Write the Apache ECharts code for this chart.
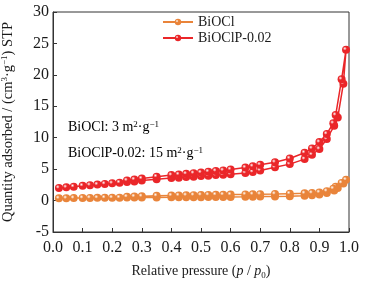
<!DOCTYPE html>
<html>
<head>
<meta charset="utf-8">
<script src="https://cdn.jsdelivr.net/npm/echarts@6/dist/echarts.min.js"></script>
<style>
  html, body { margin: 0; padding: 0; background: #fff; }
  #chart { width: 366px; height: 282px; }
</style>
</head>
<body>
<div id="chart"></div>
<script>
// 吸附支 / 脱附支 相对压力
var pAds = [0.02, 0.045, 0.07, 0.1, 0.125, 0.15, 0.175, 0.2, 0.225, 0.25, 0.275, 0.3, 0.35, 0.4, 0.425, 0.45, 0.475, 0.5, 0.525, 0.55, 0.575, 0.6, 0.65, 0.675, 0.7, 0.75, 0.8, 0.85, 0.875, 0.9, 0.925, 0.95, 0.962, 0.981, 0.99];
var pDes = [0.99, 0.975, 0.955, 0.947, 0.925, 0.9, 0.875, 0.85, 0.8, 0.75, 0.7, 0.675, 0.65, 0.6, 0.575, 0.55, 0.525, 0.5, 0.475, 0.45, 0.425, 0.4, 0.35, 0.3, 0.275, 0.25];

var bioclAds = [0.35, 0.37, 0.39, 0.41, 0.42, 0.43, 0.44, 0.45, 0.46, 0.47, 0.48, 0.49, 0.5, 0.51, 0.52, 0.52, 0.53, 0.54, 0.55, 0.56, 0.57, 0.58, 0.6, 0.62, 0.63, 0.66, 0.7, 0.78, 0.84, 0.95, 1.2, 1.6, 2.0, 2.7, 3.3];
var bioclDes = [3.3, 2.8, 2.2, 1.9, 1.5, 1.3, 1.2, 1.15, 1.1, 1.05, 1.02, 1.0, 0.98, 0.95, 0.93, 0.92, 0.9, 0.88, 0.86, 0.84, 0.82, 0.8, 0.75, 0.68, 0.64, 0.6];

var bioclpAds = [2.0, 2.1, 2.2, 2.35, 2.45, 2.55, 2.65, 2.75, 2.85, 2.95, 3.05, 3.2, 3.4, 3.6, 3.65, 3.75, 3.8, 3.9, 3.95, 4.05, 4.1, 4.2, 4.4, 4.55, 4.8, 5.3, 5.8, 6.6, 7.3, 8.2, 9.8, 11.9, 13.2, 18.6, 24.0];
var bioclpDes = [24.0, 19.3, 13.6, 12.3, 10.6, 9.3, 8.3, 7.6, 6.7, 6.1, 5.7, 5.45, 5.25, 4.95, 4.8, 4.7, 4.6, 4.45, 4.35, 4.25, 4.15, 4.05, 3.8, 3.5, 3.35, 3.2];

var names = ['BiOCl', 'BiOClP-0.02'];
var colors = ['#E9843A', '#EA2629'];

function loop(ads, des) {
    var arr = [];
    for (var i = 0; i < pAds.length; i++) arr.push([pAds[i], ads[i]]);
    for (var j = 1; j < pDes.length; j++) arr.push([pDes[j], des[j]]);
    return arr;
}

function ball(c) {
    return new echarts.graphic.RadialGradient(0.35, 0.35, 0.7, [
        { offset: 0, color: '#ffffff' },
        { offset: 0.35, color: c },
        { offset: 1, color: c }
    ]);
}

var font = '"Liberation Serif", "DejaVu Serif", serif';
var txt = '#1a1a1a';
var myChart = echarts.init(document.getElementById('chart'));

var supStyle = { fontSize: 9, fontFamily: font, color: txt, verticalAlign: 'top', lineHeight: 10, padding: [0, 0, 6, 0] };
var baseStyle = { fontSize: 14, fontFamily: font, color: txt, lineHeight: 15 };

var option = {
    animation: false,
    grid: { left: 53, right: 17, top: 12, bottom: 50, outerBoundsMode: 'none', containLabel: false, show: true, borderColor: '#333', borderWidth: 1 },
    legend: {
        top: 10, left: 157, orient: 'vertical', itemWidth: 30, itemHeight: 8, itemGap: 2,
        textStyle: { fontFamily: font, fontSize: 14, color: txt },
        data: names
    },
    xAxis: {
        type: 'value', min: 0, max: 1, interval: 0.1,
        axisLine: { onZero: false, lineStyle: { color: '#333' } },
        axisTick: { inside: true, length: 4, lineStyle: { color: '#333' } },
        splitLine: { show: false },
        axisLabel: { fontFamily: font, fontSize: 16, color: txt, margin: 8, formatter: function (v) { return v.toFixed(1); } },
        name: '{a|Relative pressure (}{i|p}{a| / }{i|p}{s|0}{a|)}',
        nameLocation: 'middle', nameGap: 31,
        nameTextStyle: {
            rich: {
                a: { fontFamily: font, fontSize: 14, color: txt },
                i: { fontFamily: font, fontSize: 14, color: txt, fontStyle: 'italic' },
                s: { fontFamily: font, fontSize: 9, color: txt, padding: [8, 0, 0, 0] }
            }
        }
    },
    yAxis: {
        type: 'value', min: -5, max: 30, interval: 5,
        axisLine: { onZero: false, lineStyle: { color: '#333' } },
        axisTick: { inside: true, length: 4, lineStyle: { color: '#333' } },
        splitLine: { show: false },
        axisLabel: { fontFamily: font, fontSize: 16, color: txt, margin: 4 },
        name: '{a|Quantity adsorbed / (cm}{s|3}{a|·g}{s|−1}{a|) STP}',
        nameLocation: 'middle', nameGap: 37,
        nameTextStyle: {
            rich: {
                a: { fontFamily: font, fontSize: 14.5, color: txt },
                s: { fontFamily: font, fontSize: 9, color: txt, padding: [0, 0, 7, 0] }
            }
        }
    },
    graphic: [
        {
            type: 'text', left: 68, top: 120,
            style: {
                text: '{a|BiOCl: 3 m}{s|2}{a|·g}{s|−1}',
                rich: { a: baseStyle, s: supStyle }
            }
        },
        {
            type: 'text', left: 68, top: 146,
            style: {
                text: '{a|BiOClP-0.02: 15 m}{s|2}{a|·g}{s|−1}',
                rich: { a: baseStyle, s: supStyle }
            }
        }
    ],
    series: [
        {
            name: names[0], type: 'line', data: loop(bioclAds, bioclDes),
            symbol: 'circle', symbolSize: 8, showAllSymbol: true,
            lineStyle: { color: colors[0], width: 1.5 },
            itemStyle: { color: ball(colors[0]), borderWidth: 0 },
            z: 2
        },
        {
            name: names[1], type: 'line', data: loop(bioclpAds, bioclpDes),
            symbol: 'circle', symbolSize: 8, showAllSymbol: true,
            lineStyle: { color: colors[1], width: 1.5 },
            itemStyle: { color: ball(colors[1]), borderWidth: 0 },
            z: 3
        }
    ]
};

myChart.setOption(option);
</script>
</body>
</html>
